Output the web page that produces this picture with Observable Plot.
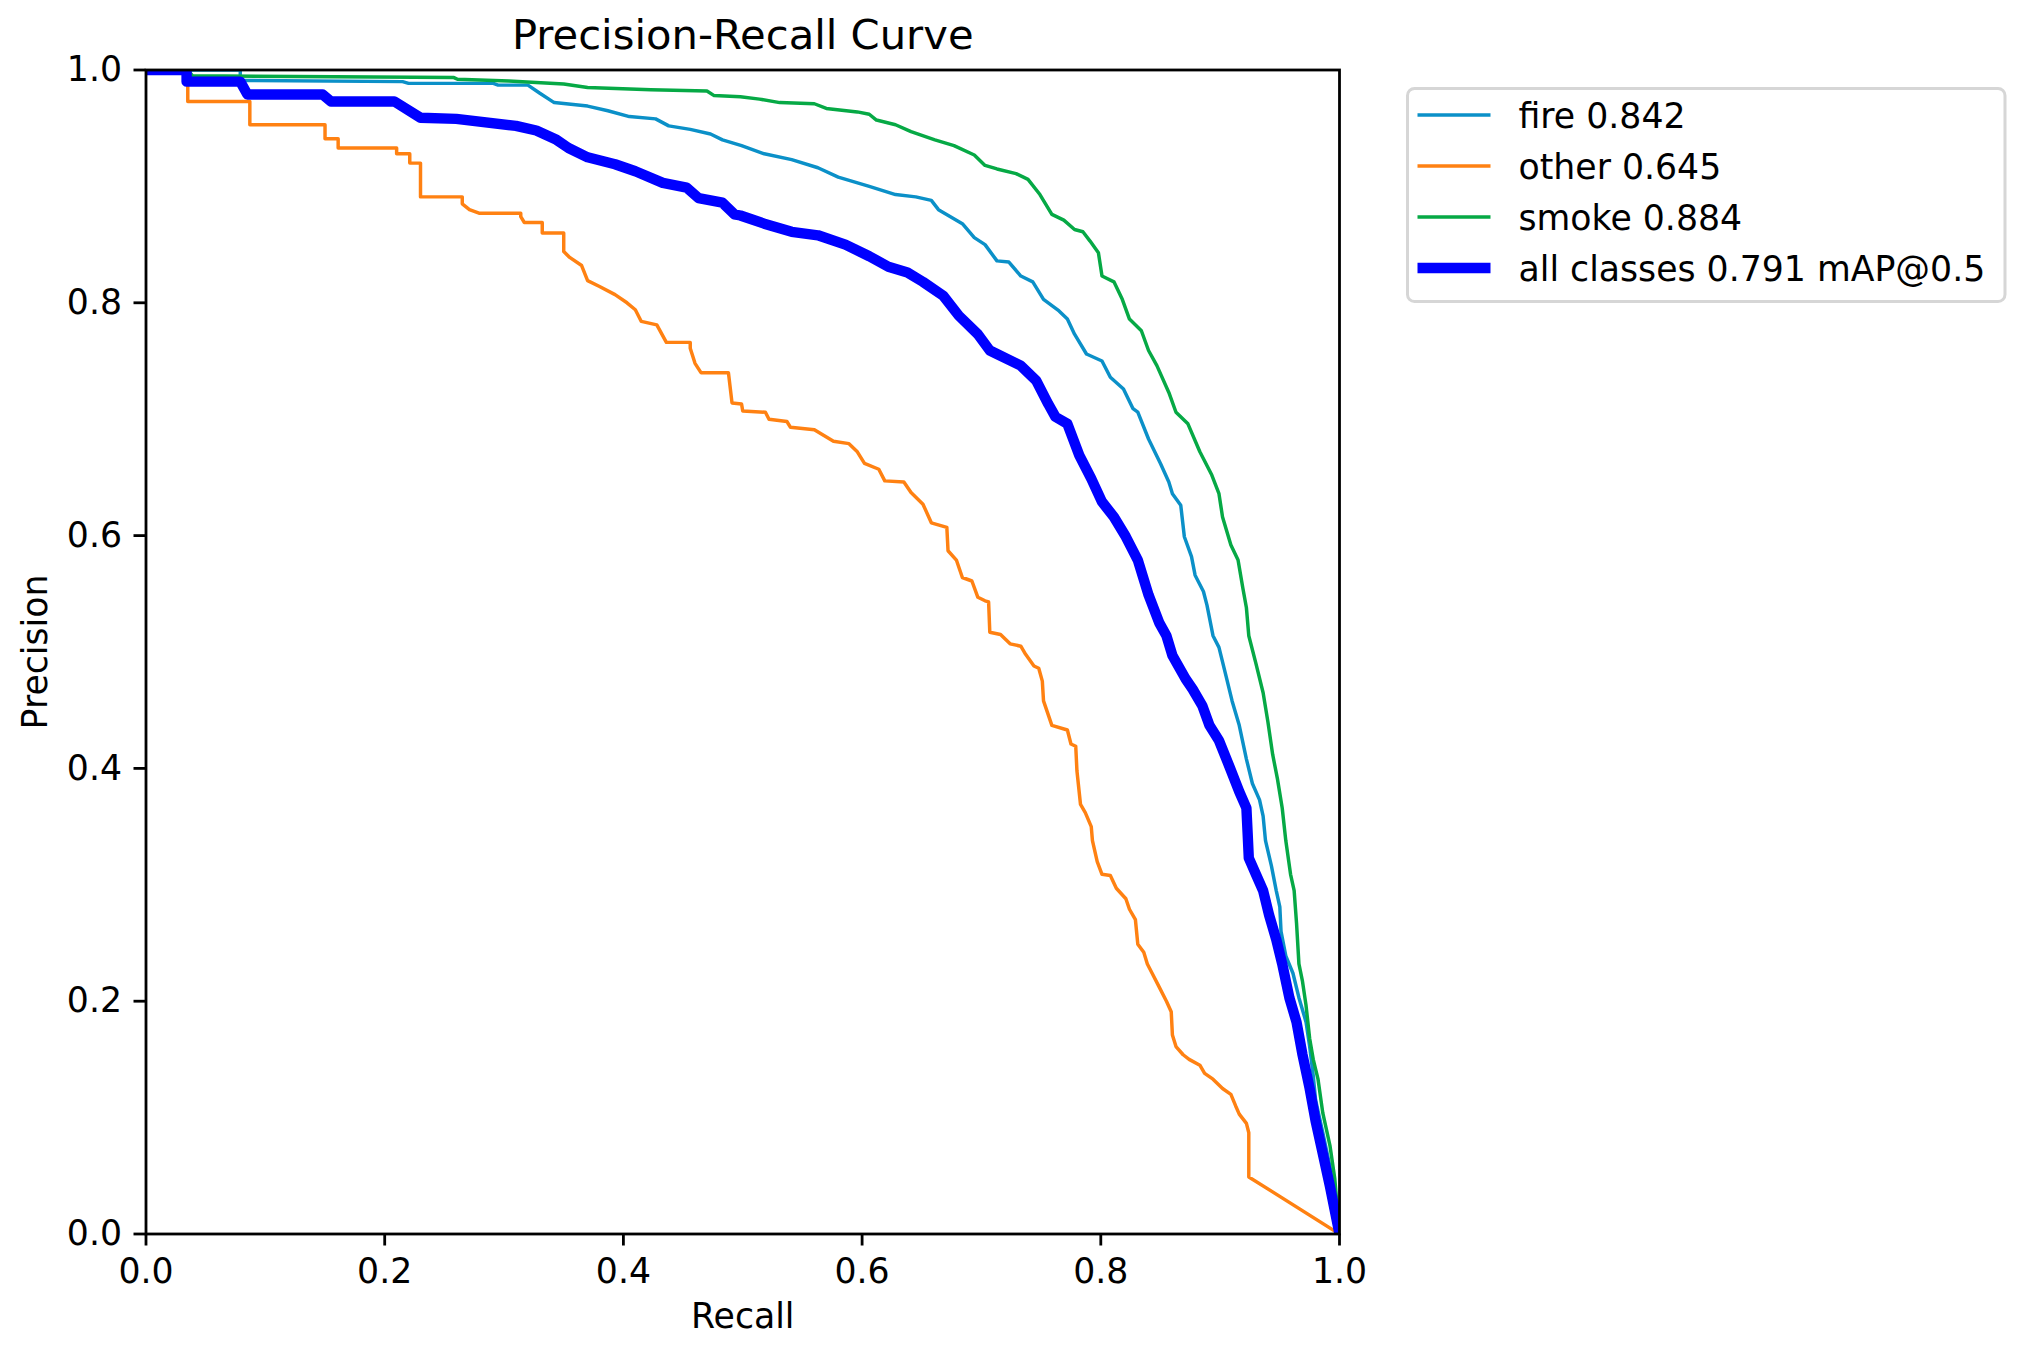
<!DOCTYPE html>
<html>
<head>
<meta charset="utf-8">
<script src="https://cdn.jsdelivr.net/npm/d3@7"></script>
<script src="https://cdn.jsdelivr.net/npm/@observablehq/plot@0.6"></script>
<style>
  html, body { margin: 0; padding: 0; background: #ffffff; }
  #wrap { position: relative; width: 2019px; height: 1354px; font-family: "DejaVu Sans", sans-serif; }
  #legend { position: absolute; left: 1405.5px; top: 87px; }
</style>
</head>
<body>
<div id="wrap"></div>
<script>
// ---- Data ----
const titleText = "Precision-Recall Curve";
const xLabel = "Recall";
const yLabel = "Precision";
const xTicks = [0, 0.2, 0.4, 0.6, 0.8, 1.0];
const yTicks = [0, 0.2, 0.4, 0.6, 0.8, 1.0];

const classNames = ["fire", "other", "smoke", "all classes"];
const apValues = [0.842, 0.645, 0.884, 0.791];
const seriesColors = ["#0b90c8", "#ff8112", "#06a945", "#0000ff"];
const seriesWidths = [3.47, 3.47, 3.47, 10.4];

// [recall, precision]
const fireCurve = [
  [0,1.0],[0.079,1.0],[0.079,0.991],[0.215,0.99],[0.22,0.9885],[0.291,0.9885],[0.295,0.987],[0.32,0.987],
  [0.33,0.98],[0.342,0.972],[0.37,0.969],[0.387,0.965],[0.405,0.96],[0.427,0.958],[0.438,0.952],[0.456,0.949],
  [0.473,0.945],[0.483,0.94],[0.499,0.935],[0.518,0.928],[0.541,0.923],[0.563,0.916],[0.58,0.908],[0.606,0.900],
  [0.628,0.893],[0.645,0.891],[0.658,0.888],[0.664,0.880],[0.684,0.868],[0.694,0.856],[0.703,0.850],[0.713,0.836],
  [0.723,0.835],[0.733,0.823],[0.743,0.818],[0.752,0.803],[0.765,0.793],[0.772,0.786],[0.778,0.773],[0.788,0.756],
  [0.801,0.750],[0.808,0.736],[0.819,0.726],[0.827,0.709],[0.831,0.706],[0.840,0.683],[0.850,0.662],[0.857,0.646],
  [0.860,0.636],[0.867,0.626],[0.870,0.599],[0.876,0.582],[0.879,0.566],[0.886,0.552],[0.889,0.540],[0.894,0.514],
  [0.899,0.504],[0.905,0.479],[0.910,0.458],[0.916,0.437],[0.922,0.408],[0.927,0.387],[0.933,0.373],[0.936,0.359],
  [0.938,0.338],[0.943,0.316],[0.947,0.295],[0.950,0.281],[0.951,0.260],[0.955,0.239],[0.961,0.224],[0.966,0.203],
  [0.972,0.182],[0.975,0.161],[0.978,0.136],[0.980,0.115],[0.986,0.087],[0.992,0.058],[0.996,0.030],[1.0,0.0]
];

const otherCurve = [
  [0,1.0],[0.035,1.0],[0.035,0.973],[0.087,0.973],[0.087,0.953],[0.150,0.953],[0.150,0.941],[0.161,0.941],
  [0.161,0.933],[0.210,0.933],[0.210,0.928],[0.221,0.928],[0.221,0.920],[0.230,0.920],[0.230,0.891],[0.265,0.891],
  [0.265,0.885],[0.271,0.880],[0.279,0.877],[0.314,0.877],[0.314,0.874],[0.317,0.869],[0.332,0.869],[0.332,0.860],
  [0.350,0.860],[0.350,0.844],[0.355,0.839],[0.365,0.832],[0.370,0.819],[0.380,0.814],[0.393,0.807],[0.403,0.800],
  [0.410,0.794],[0.415,0.784],[0.428,0.781],[0.436,0.766],[0.456,0.766],[0.456,0.761],[0.460,0.748],[0.465,0.740],
  [0.488,0.740],[0.491,0.714],[0.499,0.713],[0.500,0.707],[0.519,0.706],[0.522,0.700],[0.537,0.698],[0.540,0.693],
  [0.560,0.691],[0.568,0.686],[0.576,0.681],[0.589,0.679],[0.596,0.672],[0.602,0.662],[0.614,0.657],[0.619,0.647],
  [0.635,0.646],[0.641,0.637],[0.651,0.627],[0.658,0.611],[0.671,0.607],[0.672,0.587],[0.679,0.579],[0.684,0.564],
  [0.692,0.561],[0.697,0.547],[0.703,0.544],[0.706,0.543],[0.707,0.517],[0.716,0.515],[0.724,0.507],[0.733,0.505],
  [0.737,0.498],[0.744,0.488],[0.748,0.486],[0.751,0.475],[0.752,0.458],[0.755,0.449],[0.759,0.437],[0.772,0.433],
  [0.775,0.421],[0.779,0.419],[0.780,0.398],[0.783,0.369],[0.787,0.362],[0.792,0.350],[0.793,0.338],[0.797,0.320],
  [0.801,0.309],[0.808,0.308],[0.813,0.297],[0.821,0.288],[0.824,0.279],[0.829,0.270],[0.831,0.249],[0.836,0.242],
  [0.839,0.232],[0.843,0.224],[0.848,0.214],[0.855,0.200],[0.859,0.191],[0.860,0.171],[0.863,0.161],[0.869,0.154],
  [0.874,0.150],[0.883,0.145],[0.887,0.138],[0.894,0.133],[0.902,0.125],[0.909,0.120],[0.913,0.110],[0.916,0.103],
  [0.922,0.095],[0.924,0.087],[0.924,0.049],[1.0,0.0]
];

const smokeCurve = [
  [0,1.0],[0.035,1.0],[0.039,0.995],[0.258,0.9935],[0.261,0.992],[0.304,0.9905],[0.35,0.988],[0.37,0.985],
  [0.423,0.983],[0.47,0.982],[0.476,0.978],[0.498,0.977],[0.514,0.975],[0.531,0.972],[0.560,0.971],[0.570,0.967],
  [0.596,0.964],[0.606,0.962],[0.612,0.957],[0.628,0.953],[0.641,0.947],[0.661,0.940],[0.677,0.935],[0.694,0.927],
  [0.703,0.918],[0.713,0.915],[0.729,0.911],[0.739,0.906],[0.749,0.893],[0.759,0.876],[0.769,0.871],[0.778,0.863],
  [0.785,0.861],[0.791,0.853],[0.798,0.843],[0.801,0.823],[0.811,0.818],[0.818,0.803],[0.824,0.786],[0.834,0.776],
  [0.840,0.759],[0.847,0.746],[0.857,0.723],[0.863,0.706],[0.873,0.696],[0.883,0.672],[0.893,0.652],[0.899,0.636],
  [0.902,0.616],[0.909,0.592],[0.915,0.579],[0.919,0.555],[0.922,0.538],[0.924,0.514],[0.930,0.490],[0.936,0.465],
  [0.940,0.440],[0.944,0.412],[0.948,0.391],[0.952,0.366],[0.955,0.338],[0.959,0.309],[0.962,0.295],[0.964,0.267],
  [0.966,0.232],[0.969,0.217],[0.972,0.196],[0.975,0.168],[0.978,0.150],[0.982,0.133],[0.986,0.104],[0.992,0.076],
  [0.996,0.048],[1.0,0.0]
];

const allCurve = [
  [0,1.0],[0.034,1.0],[0.034,0.990],[0.079,0.990],[0.085,0.979],[0.148,0.979],[0.155,0.973],[0.208,0.973],
  [0.23,0.959],[0.26,0.958],[0.31,0.952],[0.327,0.948],[0.344,0.940],[0.354,0.933],[0.370,0.925],[0.393,0.919],
  [0.41,0.913],[0.433,0.903],[0.453,0.899],[0.463,0.890],[0.483,0.886],[0.493,0.876],[0.498,0.875],[0.518,0.868],
  [0.541,0.861],[0.563,0.858],[0.586,0.850],[0.606,0.840],[0.622,0.831],[0.638,0.826],[0.651,0.818],[0.668,0.806],
  [0.681,0.789],[0.697,0.773],[0.707,0.759],[0.713,0.756],[0.733,0.746],[0.746,0.733],[0.756,0.713],[0.762,0.702],
  [0.772,0.696],[0.782,0.669],[0.792,0.649],[0.801,0.629],[0.811,0.616],[0.821,0.599],[0.831,0.579],[0.840,0.549],
  [0.849,0.525],[0.855,0.514],[0.860,0.497],[0.871,0.477],[0.877,0.468],[0.885,0.454],[0.891,0.437],[0.899,0.424],
  [0.908,0.401],[0.916,0.380],[0.922,0.366],[0.923,0.345],[0.924,0.323],[0.930,0.309],[0.936,0.295],[0.941,0.274],
  [0.947,0.253],[0.952,0.232],[0.958,0.203],[0.964,0.182],[0.969,0.154],[0.975,0.125],[0.980,0.097],[0.986,0.069],
  [0.992,0.041],[1.0,0.0]
];

const curves = [fireCurve, otherCurve, smokeCurve, allCurve];
const legendLabels = classNames.map((n, i) =>
  i === 3 ? `${n} ${apValues[i].toFixed(3)} mAP@0.5` : `${n} ${apValues[i].toFixed(3)}`);

// ---- Chart ----
const lineMarks = curves.map((c, i) =>
  Plot.line(c.map(([r, p]) => ({r, p})), {
    x: "r", y: "p",
    stroke: seriesColors[i],
    strokeWidth: seriesWidths[i],
    strokeLinejoin: "round",
    strokeLinecap: "butt",
    clip: true
  })
);

const fmt = d3.format(".1f");

const chart = Plot.plot({
  width: 2019,
  height: 1354,
  marginLeft: 145.5,
  marginRight: 680,
  marginTop: 69.5,
  marginBottom: 120.5,
  x: {domain: [0, 1]},
  y: {domain: [0, 1]},
  style: {fontFamily: "DejaVu Sans", fontSize: "34.7px", color: "black", background: "white", overflow: "visible"},
  marks: [
    ...lineMarks,
    Plot.frame({stroke: "black", strokeWidth: 2.8}),
    Plot.axisX({ticks: xTicks, tickSize: 12, tickPadding: 12, tickFormat: fmt, strokeWidth: 2.8, label: null, fontSize: 34.7, fill: "black"}),
    Plot.axisY({ticks: yTicks, tickSize: 12, tickPadding: 12, tickFormat: fmt, strokeWidth: 2.8, label: null, fontSize: 34.7, fill: "black"}),
    Plot.text([xLabel], {frameAnchor: "bottom", dy: 83, text: d => d, fontSize: 34.7, textAnchor: "middle", lineAnchor: "middle", fill: "black"}),
    Plot.text([yLabel], {frameAnchor: "left", dx: -110, rotate: -90, text: d => d, fontSize: 34.7, textAnchor: "middle", lineAnchor: "middle", fill: "black"}),
    Plot.text([titleText], {frameAnchor: "top", dy: -34.5, text: d => d, fontSize: 41.7, textAnchor: "middle", lineAnchor: "middle", fill: "black"})
  ]
});

const wrap = document.getElementById("wrap");
wrap.appendChild(chart);

// ---- Legend (overlay in the right margin) ----
const lw = 600.5, lh = 216;
const legendDiv = document.createElement("div");
legendDiv.id = "legend";
wrap.appendChild(legendDiv);
const lsvg = d3.select(legendDiv).append("svg")
  .attr("width", lw).attr("height", lh)
  .style("overflow", "visible");
lsvg.append("rect")
  .attr("x", 1.5).attr("y", 1.5)
  .attr("width", lw - 3).attr("height", lh - 3)
  .attr("rx", 7).attr("ry", 7)
  .attr("fill", "white").attr("fill-opacity", 0.8)
  .attr("stroke", "#d6d6d6").attr("stroke-width", 3);
const rowY = [28, 79, 130, 181];
classNames.forEach((n, i) => {
  const g = lsvg.append("g").attr("transform", `translate(0,${rowY[i]})`);
  g.append("line")
    .attr("x1", 11.5).attr("x2", 84.5).attr("y1", 0).attr("y2", 0)
    .attr("stroke", seriesColors[i]).attr("stroke-width", seriesWidths[i]);
  g.append("text")
    .attr("x", 112.5).attr("y", 12.7)
    .attr("font-family", "DejaVu Sans").attr("font-size", 34.7)
    .attr("fill", "black")
    .text(legendLabels[i]);
});
</script>
</body>
</html>
